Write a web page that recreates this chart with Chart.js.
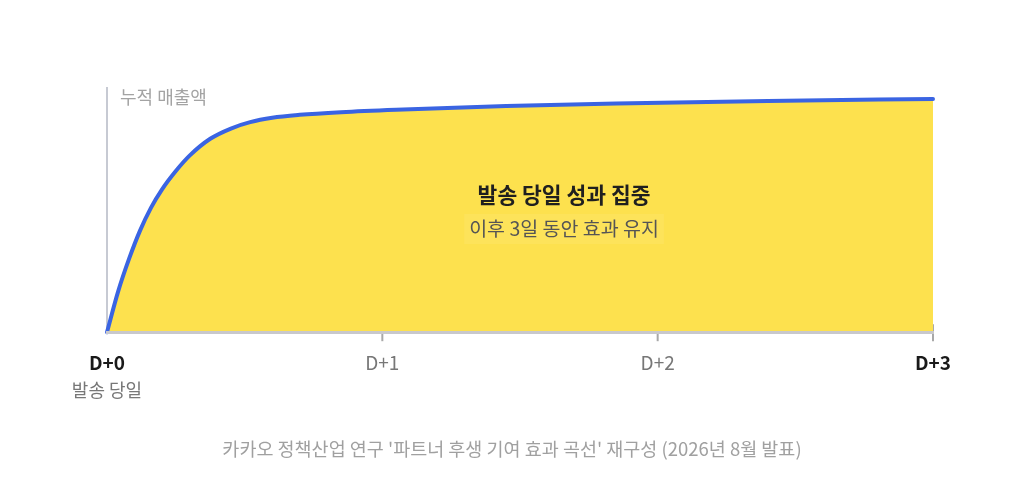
<!DOCTYPE html>
<html>
<head>
<meta charset="utf-8">
<script src="https://cdn.jsdelivr.net/npm/chart.js@4.4.1/dist/chart.umd.min.js"></script>
<style>
  html, body { margin: 0; padding: 0; background: #fff; }
  #wrap { width: 1024px; height: 485px; }
</style>
</head>
<body>
<div id="wrap"><canvas id="curve" width="1024" height="485"></canvas></div>
<script>
// days after sending, cumulative sales index
const days = [0, 0.04, 0.08, 0.12, 0.16, 0.2, 0.25, 0.3, 0.375, 0.45, 0.52, 0.6, 0.7, 0.85, 1.05, 1.45, 1.85, 2.4, 3];
const sales = [0, 16.5, 30, 41.6, 51, 58.5, 66, 72.3, 79.2, 83.4, 86, 87.8, 89, 90.1, 91.1, 92.6, 93.7, 94.7, 95.5];
const tickLabels = ["D+0", "D+1", "D+2", "D+3"];
const boldTicks = [0, 3];
const startNote = "발송 당일";
const yTitle = "누적 매출액";
const noteTitle = "발송 당일 성과 집중";
const noteSub = "이후 3일 동안 효과 유지";
const noteAt = 1.66; // day the annotation is centred on
const source = "카카오 정책산업 연구 '파트너 후생 기여 효과 곡선' 재구성 (2026년 8월 발표)";

const FONT = "'Noto Sans CJK KR', 'Noto Sans', sans-serif";

const extras = {
    id: "extras",
    beforeDatasetsDraw(chart) {
        const { ctx, chartArea, scales } = chart;
        ctx.save();
        // tick marks crossing the baseline
        ctx.strokeStyle = "#a8a8a8";
        ctx.lineWidth = 2;
        for (let d = 1; d <= 3; d++) {
            const x = scales.x.getPixelForValue(d);
            ctx.beginPath();
            ctx.moveTo(x, chartArea.bottom - 8);
            ctx.lineTo(x, chartArea.bottom + 9);
            ctx.stroke();
        }
        ctx.restore();
    },
    afterDatasetsDraw(chart) {
        const { ctx, chartArea, scales } = chart;
        ctx.save();
        ctx.textBaseline = "middle";

        ctx.fillStyle = "#a3a3a3";
        ctx.font = "18px " + FONT;
        ctx.textAlign = "left";
        ctx.fillText(yTitle, chartArea.left + 13, 97);

        const cx = scales.x.getPixelForValue(noteAt);
        ctx.textAlign = "center";
        ctx.font = "19.5px " + FONT;
        const w = ctx.measureText(noteSub).width;
        ctx.fillStyle = "rgba(255,255,255,0.07)";
        ctx.fillRect(cx - w / 2 - 5, 214, w + 10, 30);
        ctx.fillStyle = "#1f1f1f";
        ctx.font = "bold 21.5px " + FONT;
        ctx.fillText(noteTitle, cx, 195);
        ctx.fillStyle = "#555555";
        ctx.font = "19.5px " + FONT;
        ctx.fillText(noteSub, cx, 229);

        ctx.fillStyle = "#777777";
        ctx.font = "18px " + FONT;
        ctx.fillText(startNote, scales.x.getPixelForValue(0), 390);

        ctx.fillStyle = "#a0a0a0";
        ctx.font = "18.5px " + FONT;
        ctx.fillText(source, 512, 449);
        ctx.restore();
    },
};

new Chart(document.getElementById("curve"), {
    type: "line",
    data: {
        datasets: [
            {
                label: yTitle,
                data: days.map((d, i) => ({ x: d, y: sales[i] })),
                borderColor: "#3a64e2",
                borderWidth: 4,
                backgroundColor: "#fde14e",
                fill: "origin",
                pointRadius: 0,
                cubicInterpolationMode: "monotone",
                borderCapStyle: "round",
                clip: 8,
            },
        ],
    },
    options: {
        responsive: false,
        animation: false,
        layout: {
            padding: { left: 107, right: 91, top: 88, bottom: 92 },
        },
        scales: {
            x: {
                type: "linear",
                min: 0,
                max: 3,
                border: { display: true, color: "#c8c8cc", width: 3, z: 1 },
                grid: { display: false, drawTicks: false },
                afterBuildTicks(axis) {
                    axis.ticks = [0, 1, 2, 3].map((v) => ({ value: v }));
                },
                ticks: {
                    padding: 19,
                    maxRotation: 0,
                    autoSkip: false,
                    callback: (v) => tickLabels[v],
                    color: (c) => (boldTicks.includes(c.tick.value) ? "#1a1a1a" : "#777777"),
                    font: (c) => ({
                        family: FONT,
                        size: 19,
                        weight: boldTicks.includes(c.tick && c.tick.value) ? "bold" : "normal",
                    }),
                },
            },
            y: {
                min: 0,
                max: 100,
                border: { display: true, color: "#c7cad3", width: 2 },
                grid: { display: false, drawTicks: false },
                ticks: { display: false },
            },
        },
        plugins: {
            legend: { display: false },
            tooltip: { enabled: false },
        },
    },
    plugins: [extras],
});
</script>
</body>
</html>
